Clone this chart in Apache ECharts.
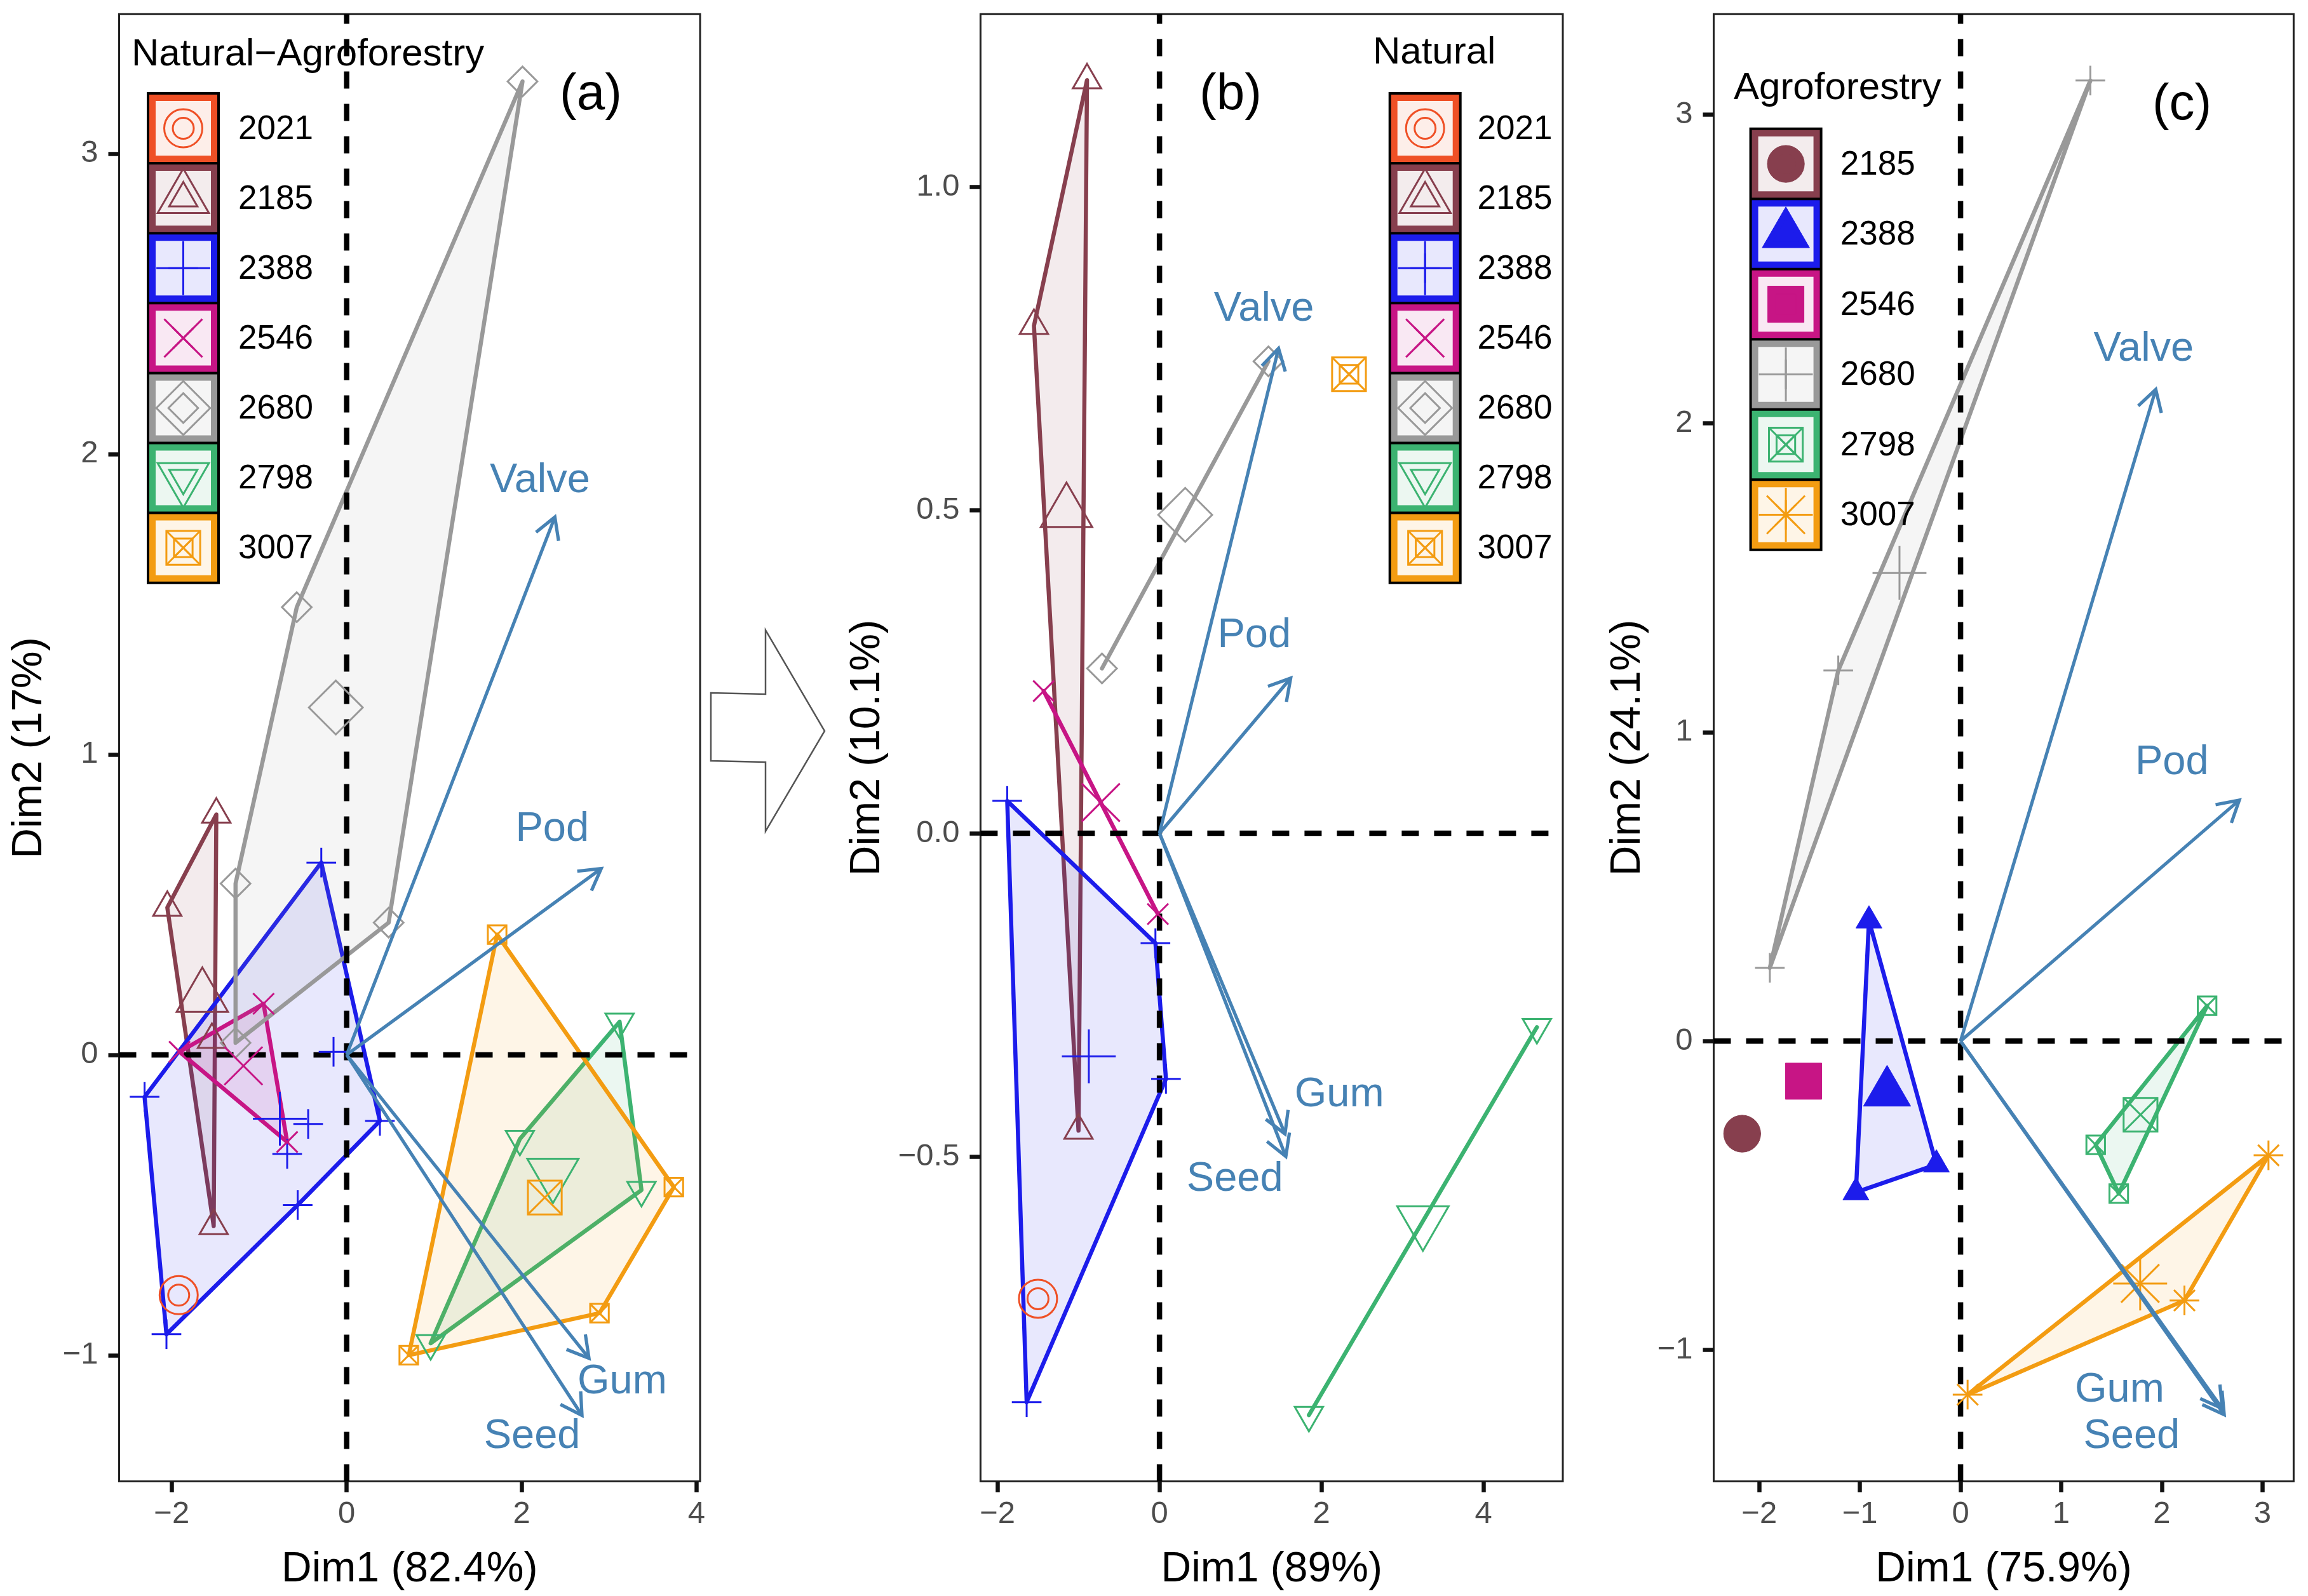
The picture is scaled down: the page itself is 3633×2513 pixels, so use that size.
<!DOCTYPE html>
<html><head><meta charset="utf-8">
<script src="https://cdn.jsdelivr.net/npm/echarts@6/dist/echarts.min.js"></script>
<style>html,body{margin:0;padding:0;background:#fff}#c{width:3633px;height:2513px}</style>
</head><body><div id="c"></div>
<script>
// ---------------- DATA ----------------
const years = ['2021','2185','2388','2546','2680','2798','3007'];
const yearsC = ['2185','2388','2546','2680','2798','3007'];
const varNames = ['Valve','Pod','Gum','Seed'];

// Panel (a) Natural-Agroforestry
const a2021 = [[-1.92,-0.80]];
const a2185 = [[-1.49,0.80],[-2.05,0.49],[-1.54,0.05],[-1.52,-0.57]];
const a2388 = [[-0.29,0.64],[-2.31,-0.14],[-0.15,0.01],[0.38,-0.22],[-0.44,-0.23],[-0.68,-0.33],[-0.56,-0.50],[-2.06,-0.93]];
const a2546 = [[-0.95,0.17],[-1.91,0.01],[-0.68,-0.29]];
const a2680 = [[2.01,3.24],[-0.57,1.49],[-1.27,0.57],[-1.27,0.04],[0.48,0.44]];
const a2798 = [[3.12,0.11],[1.98,-0.28],[3.37,-0.45],[0.96,-0.96]];
const a3007 = [[1.72,0.40],[3.74,-0.44],[2.89,-0.86],[0.71,-1.00]];
const aVarX = [2.38, 2.91, 2.77, 2.69];
const aVarY = [1.79, 0.62, -1.01, -1.20];
const aLabX = [2.21, 2.35, 3.15, 2.12];
const aLabY = [1.91, 0.75, -1.09, -1.27];
const aXTicks = [-2, 0, 2, 4];
const aYTicks = [-1, 0, 1, 2, 3];

// Panel (b) Natural
const b2021 = [[-1.50,-0.72]];
const b2185 = [[-0.895,1.165],[-1.55,0.785],[-1.00,-0.46]];
const b2388 = [[-1.88,0.05],[-0.05,-0.17],[0.08,-0.38],[-1.64,-0.88]];
const b2546 = [[-1.43,0.22],[-0.02,-0.125]];
const b2680 = [[1.345,0.73],[-0.71,0.255]];
const b2798 = [[4.66,-0.30],[1.845,-0.90]];
const b3007 = [[2.34,0.71]];
const bVarX = [1.47, 1.62, 1.55, 1.56];
const bVarY = [0.75, 0.24, -0.465, -0.50];
const bLabX = [1.29, 1.17, 2.22, 0.93];
const bLabY = [0.81, 0.305, -0.405, -0.535];
const bXTicks = [-2, 0, 2, 4];
const bYTicks = [-0.5, 0, 0.5, 1.0];

// Panel (c) Agroforestry
const c2185 = [[-2.17,-0.30]];
const c2388 = [[-0.91,0.39],[-0.24,-0.40],[-1.04,-0.49]];
const c2546 = [[-1.56,-0.13]];
const c2680 = [[1.29,3.11],[-1.215,1.20],[-1.895,0.237]];
const c2798 = [[2.45,0.114],[1.343,-0.336],[1.572,-0.494]];
const c3007 = [[3.06,-0.37],[2.225,-0.84],[0.07,-1.145]];
const cVarX = [1.94, 2.77, 2.60, 2.62];
const cVarY = [2.11, 0.78, -1.19, -1.21];
const cLabX = [1.82, 2.10, 1.58, 1.70];
const cLabY = [2.24, 0.90, -1.13, -1.28];
const cXTicks = [-2, -1, 0, 1, 2, 3];
const cYTicks = [-1, 0, 1, 2, 3];

// ---------------- STYLE / LAYOUT ----------------
const FF = '"Liberation Sans", Arial, Helvetica, sans-serif';
const yearColor = {'2021':'#EF5026','2185':'#873F4E','2388':'#1C1CEB','2546':'#C71585','2680':'#999999','2798':'#3CB371','3007':'#F39C12'};
const ARROW = '#4682B4';
const RS = 16.5, RB = 30, MSW = 3;

const panels = [
  {title:'Natural\u2212Agroforestry', keys:years, groups:[a2021,a2185,a2388,a2546,a2680,a2798,a3007],
   shapes:['circle','tri','plus','cross','diamond','triD','sqX'],
   vx:aVarX, vy:aVarY, lx:aLabX, ly:aLabY, xt:aXTicks, yt:aYTicks, xName:'Dim1 (82.4%)', yName:'Dim2 (17%)', yDec:0, tag:'(a)'},
  {title:'Natural', keys:years, groups:[b2021,b2185,b2388,b2546,b2680,b2798,b3007],
   shapes:['circle','tri','plus','cross','diamond','triD','sqX'],
   vx:bVarX, vy:bVarY, lx:bLabX, ly:bLabY, xt:bXTicks, yt:bYTicks, xName:'Dim1 (89%)', yName:'Dim2 (10.1%)', yDec:1, tag:'(b)'},
  {title:'Agroforestry', keys:yearsC, groups:[c2185,c2388,c2546,c2680,c2798,c3007],
   shapes:['circleF','triF','sqF','plus','sqX','ast'],
   vx:cVarX, vy:cVarY, lx:cLabX, ly:cLabY, xt:cXTicks, yt:cYTicks, xName:'Dim1 (75.9%)', yName:'Dim2 (24.1%)', yDec:0, tag:'(c)'}
];
const layout = [
  {left:187.5, top:22.3, width:914.5, height:2310.3, xMin:-2.601, xMax:4.040, yMin:-1.420, yMax:3.464, yGap:108, xGap:106},
  {left:1543.4, top:22.3, width:916.6, height:2310.3, xMin:-2.210, xMax:4.980, yMin:-1.0026, yMax:1.267, yGap:145, xGap:106},
  {left:2697.5, top:22.3, width:912.9, height:2310.3, xMin:-2.453, xMax:3.310, yMin:-1.426, yMax:3.325, yGap:102, xGap:106}
];
const legendLayout = [
  {titleX:207, titleY:86, x0:233, y0:147, w:111, pitch:110.1, labX:375},
  {titleX:2161, titleY:83, x0:2187.7, y0:147, w:111, pitch:110.1, labX:2325.5},
  {titleX:2729, titleY:139, x0:2755.6, y0:202.8, w:111, pitch:110.5, labX:2896.7}
];
const tagPos = [[930,150],[1937,150],[3434.6,166]];

// ---------------- HELPERS ----------------
function hexRgb(h){const n=parseInt(h.slice(1),16);return [(n>>16)&255,(n>>8)&255,n&255];}
function rgba(h,a){const c=hexRgb(h);return 'rgba('+c[0]+','+c[1]+','+c[2]+','+a+')';}
function blend(h,a){const c=hexRgb(h);const f=v=>Math.round(255+(v-255)*a);return 'rgb('+f(c[0])+','+f(c[1])+','+f(c[2])+')';}
function hull(pts){
  if(pts.length<3) return pts.slice();
  const p=pts.slice().sort((a,b)=>a[0]-b[0]||a[1]-b[1]);
  const cr=(o,a,b)=>(a[0]-o[0])*(b[1]-o[1])-(a[1]-o[1])*(b[0]-o[0]);
  const lo=[];for(const q of p){while(lo.length>=2&&cr(lo[lo.length-2],lo[lo.length-1],q)<=0)lo.pop();lo.push(q);}
  const up=[];for(let i=p.length-1;i>=0;i--){const q=p[i];while(up.length>=2&&cr(up[up.length-2],up[up.length-1],q)<=0)up.pop();up.push(q);}
  up.pop();lo.pop();return lo.concat(up);
}
function mean(pts){let sx=0,sy=0;pts.forEach(p=>{sx+=p[0];sy+=p[1];});return [sx/pts.length,sy/pts.length];}
function marker(shape,x,y,R,color){
  const st={fill:'none',stroke:color,lineWidth:MSW};
  const fs={fill:color,stroke:color,lineWidth:1};
  const L=(x1,y1,x2,y2)=>({type:'line',shape:{x1:x1,y1:y1,x2:x2,y2:y2},style:{stroke:color,lineWidth:MSW}});
  const h=1.4142*R;
  switch(shape){
    case 'circle': return [{type:'circle',shape:{cx:x,cy:y,r:R},style:st}];
    case 'circleF': return [{type:'circle',shape:{cx:x,cy:y,r:R*0.97},style:fs}];
    case 'tri': case 'triF': {
      const k=shape==='triF'?0.92:1;
      const t=[[x,y-1.5551*R*k],[x+1.3468*R*k,y+0.7776*R*k],[x-1.3468*R*k,y+0.7776*R*k]];
      return [{type:'polygon',shape:{points:t},style:shape==='tri'?st:fs}];
    }
    case 'triD': {
      const t=[[x,y+1.5551*R],[x+1.3468*R,y-0.7776*R],[x-1.3468*R,y-0.7776*R]];
      return [{type:'polygon',shape:{points:t},style:st}];
    }
    case 'plus': return [L(x-h,y,x+h,y),L(x,y-h,x,y+h)];
    case 'cross': return [L(x-R,y-R,x+R,y+R),L(x-R,y+R,x+R,y-R)];
    case 'diamond': return [{type:'polygon',shape:{points:[[x,y-h],[x+h,y],[x,y+h],[x-h,y]]},style:st}];
    case 'sqX': {
      const s=0.8862*R;
      return [{type:'rect',shape:{x:x-s,y:y-s,width:2*s,height:2*s},style:st},L(x-s,y-s,x+s,y+s),L(x-s,y+s,x+s,y-s)];
    }
    case 'sqF': {
      const s=0.95*R;
      return [{type:'rect',shape:{x:x-s,y:y-s,width:2*s,height:2*s},style:fs}];
    }
    case 'ast': return [L(x-R,y-R,x+R,y+R),L(x-R,y+R,x+R,y-R),L(x-h,y,x+h,y),L(x,y-h,x,y+h)];
  }
  return [];
}
function fmtNum(v,dec){const s=Math.abs(v).toFixed(dec);return (v<0?'\u2212':'')+s;}

// ---------------- OPTION ----------------
const grids=[],xAxes=[],yAxes=[],series=[];
panels.forEach((P,pi)=>{
  const Lo=layout[pi];
  grids.push({left:Lo.left,top:Lo.top,width:Lo.width,height:Lo.height,show:true,borderColor:'#222',borderWidth:3,backgroundColor:'transparent',containLabel:false,outerBoundsMode:'none'});
  const axisCommon={splitLine:{show:false},nameMoveOverlap:false,
    nameTextStyle:{fontSize:66,color:'#000',fontFamily:FF}};
  xAxes.push(Object.assign({type:'value',gridIndex:pi,position:'bottom',min:Lo.xMin,max:Lo.xMax,name:P.xName,nameLocation:'middle',nameGap:Lo.xGap,
    axisLine:{show:false,onZero:false},
    axisTick:{show:true,length:17,lineStyle:{width:6.5,color:'#111'},customValues:P.xt},
    axisLabel:{customValues:P.xt,formatter:v=>fmtNum(v,0),fontSize:49,color:'#4D4D4D',margin:27,fontFamily:FF}},axisCommon));
  yAxes.push(Object.assign({type:'value',gridIndex:pi,position:'left',min:Lo.yMin,max:Lo.yMax,name:P.yName,nameLocation:'middle',nameGap:Lo.yGap,nameRotate:90,
    axisLine:{show:false,onZero:false},
    axisTick:{show:true,length:17,lineStyle:{width:6.5,color:'#111'},customValues:P.yt},
    axisLabel:{customValues:P.yt,formatter:v=>fmtNum(v,P.yDec),fontSize:49,color:'#4D4D4D',margin:33,fontFamily:FF}},axisCommon));

  // hulls
  P.groups.forEach((pts,gi)=>{
    if(pts.length<2) return;
    const col=yearColor[P.keys[gi]];
    series.push({type:'custom',xAxisIndex:pi,yAxisIndex:pi,z:2,silent:true,data:pts,encode:{x:0,y:1},
      renderItem:(params,api)=>{
        if(params.dataIndex!==0) return null;
        const hp=hull(pts).map(p=>api.coord(p));
        return {type:'polygon',shape:{points:hp},style:{fill:rgba(col,0.1),stroke:col,lineWidth:6.5,lineJoin:'round'}};
      }});
  });
  // reference dashed lines at origin
  series.push({type:'custom',xAxisIndex:pi,yAxisIndex:pi,z:3,silent:true,data:[[0,0]],encode:{x:0,y:1},
    renderItem:(params,api)=>{
      const ox=api.value(0),oy=api.value(1);
      const a=api.coord([ox,Lo.yMin]),b=api.coord([ox,Lo.yMax]),c=api.coord([Lo.xMin,oy]),d=api.coord([Lo.xMax,oy]);
      const ds={stroke:'#000',lineWidth:8.5,lineDash:[27,24]};
      return {type:'group',children:[
        {type:'line',shape:{x1:a[0],y1:a[1],x2:b[0],y2:b[1]},style:ds},
        {type:'line',shape:{x1:c[0],y1:c[1],x2:d[0],y2:d[1]},style:ds}]};
    }});
  // individual points
  P.groups.forEach((pts,gi)=>{
    const col=yearColor[P.keys[gi]],shp=P.shapes[gi];
    series.push({type:'custom',xAxisIndex:pi,yAxisIndex:pi,z:4,silent:true,data:pts,encode:{x:0,y:1},
      renderItem:(params,api)=>{
        const c=api.coord([api.value(0),api.value(1)]);
        return {type:'group',children:marker(shp,c[0],c[1],RS,col)};
      }});
  });
  // group centroids
  const cents=P.groups.map((pts,gi)=>{const m=mean(pts);return [m[0],m[1],gi];});
  series.push({type:'custom',xAxisIndex:pi,yAxisIndex:pi,z:4,silent:true,data:cents,encode:{x:0,y:1},
    renderItem:(params,api)=>{
      const gi=api.value(2);const c=api.coord([api.value(0),api.value(1)]);
      return {type:'group',children:marker(P.shapes[gi],c[0],c[1],RB,yearColor[P.keys[gi]])};
    }});
  // variable arrows
  series.push({type:'custom',xAxisIndex:pi,yAxisIndex:pi,z:5,silent:true,data:P.vx.map((x,i)=>[x,P.vy[i]]),encode:{x:0,y:1},
    renderItem:(params,api)=>{
      const p0=api.coord([0,0]),p1=api.coord([api.value(0),api.value(1)]);
      const an=Math.atan2(p1[1]-p0[1],p1[0]-p0[0]),len=38,aw=Math.PI/6;
      const e1=[p1[0]-len*Math.cos(an-aw),p1[1]-len*Math.sin(an-aw)];
      const e2=[p1[0]-len*Math.cos(an+aw),p1[1]-len*Math.sin(an+aw)];
      return {type:'group',children:[
        {type:'line',shape:{x1:p0[0],y1:p0[1],x2:p1[0],y2:p1[1]},style:{stroke:ARROW,lineWidth:5.2}},
        {type:'polyline',shape:{points:[e1,p1,e2]},style:{stroke:ARROW,lineWidth:5.2,fill:'none'}}]};
    }});
  // variable labels
  series.push({type:'custom',xAxisIndex:pi,yAxisIndex:pi,z:6,silent:true,data:P.lx.map((x,i)=>[x,P.ly[i],i]),encode:{x:0,y:1},
    renderItem:(params,api)=>{
      const c=api.coord([api.value(0),api.value(1)]);
      return {type:'text',x:c[0],y:c[1],style:{text:varNames[api.value(2)],fill:ARROW,fontSize:65,fontFamily:FF,
        align:'center',verticalAlign:'middle',textAlign:'center',textVerticalAlign:'middle'}};
    }});
});

// ---------------- GRAPHIC: legends, tags, middle arrow ----------------
const els=[];
function txt(x,y,text,size,align){
  return {type:'text',x:x,y:y,z:20,style:{text:text,fontSize:size,fontFamily:FF,fill:'#000',
    align:align,verticalAlign:'middle',textAlign:align,textVerticalAlign:'middle'}};
}
legendLayout.forEach((Lg,pi)=>{
  const P=panels[pi],n=P.keys.length;
  els.push(txt(Lg.titleX,Lg.titleY,P.title,60,'left'));
  els.push({type:'rect',z:20,shape:{x:Lg.x0,y:Lg.y0,width:Lg.w,height:n*Lg.pitch},style:{fill:'#000',stroke:'#000',lineWidth:4}});
  P.keys.forEach((yr,i)=>{
    const col=yearColor[yr],cy0=Lg.y0+i*Lg.pitch;
    els.push({type:'rect',z:21,shape:{x:Lg.x0+2,y:cy0+2,width:Lg.w-4,height:Lg.pitch-4},style:{fill:col}});
    els.push({type:'rect',z:21,shape:{x:Lg.x0+12,y:cy0+12,width:Lg.w-24,height:Lg.pitch-24},style:{fill:blend(col,0.1)}});
    const cx=Lg.x0+Lg.w/2,cy=cy0+Lg.pitch/2;
    marker(P.shapes[i],cx,cy,RB,col).concat(marker(P.shapes[i],cx,cy,RS,col)).forEach(e=>{e.z=22;els.push(e);});
    els.push(txt(Lg.labX,cy+2,yr,53,'left'));
  });
  els.push(txt(tagPos[pi][0],tagPos[pi][1],P.tag,80,'center'));
});
els.push({type:'polygon',z:20,shape:{points:[[1119,1091],[1205,1093],[1205,992],[1298,1151],[1205,1309],[1205,1200],[1119,1198]]},
  style:{fill:'#fff',stroke:'#555',lineWidth:2.5}});

const chart=echarts.init(document.getElementById('c'));
chart.setOption({
  animation:false,
  backgroundColor:'#fff',
  textStyle:{fontFamily:FF},
  grid:grids,xAxis:xAxes,yAxis:yAxes,series:series,
  graphic:{elements:els}
});
</script></body></html>
